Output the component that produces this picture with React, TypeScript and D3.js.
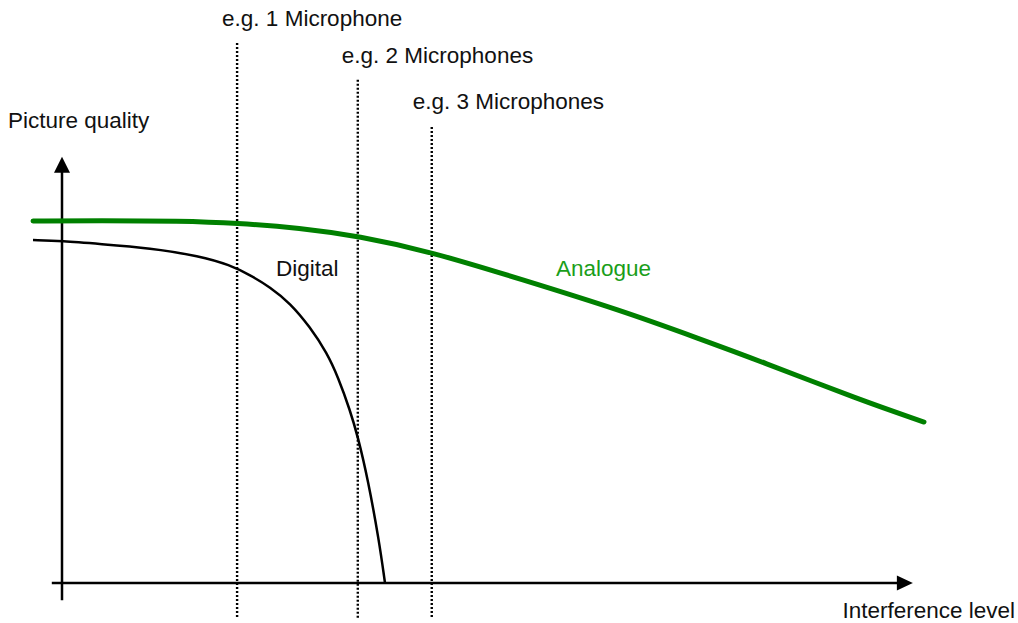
import React from "react";
import * as d3 from "d3";

// Interference level (0-100) vs picture quality (0-100)
const analogueX = [-3.41, 4.47, 13.88, 20.59, 28.0, 34.82, 43.53, 53.88, 65.65, 75.06, 82.12, 93.88, 101.41];
const analogueY = [86.19, 86.31, 86.19, 85.71, 84.52, 82.62, 78.81, 72.38, 65.0, 58.1, 52.86, 43.57, 38.33];

const digitalX = [-3.41, 0, 4.47, 10.35, 16.24, 19.76, 22.12, 24.47, 26.82, 29.18, 31.18, 32.47, 33.88, 34.82, 36.0, 37.29, 38.0];
const digitalY = [81.67, 81.43, 80.71, 79.76, 77.86, 75.71, 73.33, 70.48, 66.67, 60.95, 54.76, 49.05, 41.19, 34.76, 24.52, 10.24, 0];

const micLabels = ["e.g. 1 Microphone", "e.g. 2 Microphones", "e.g. 3 Microphones"];
const micX = [20.6, 34.8, 43.5];
const micTop = [128.6, 119.8, 108.6];

const W = 1018;
const H = 623;

export default function App() {
  const x = d3.scaleLinear().domain([0, 100]).range([62, 912]);
  const y = d3.scaleLinear().domain([0, 100]).range([583, 163]);

  const line = d3
    .line<[number, number]>()
    .x((d) => x(d[0]))
    .y((d) => y(d[1]))
    .curve(d3.curveBasis);

  const analogue: [number, number][] = analogueX.map((v, i) => [v, analogueY[i]]);
  const digital: [number, number][] = digitalX.map((v, i) => [v, digitalY[i]]);

  const font = "'Liberation Sans', Arial, Helvetica, sans-serif";

  const x0 = x(0);
  const y0 = y(0);
  const yTip = y(101.5);
  const xTip = x(100.1);

  return (
    <svg
      width={W}
      height={H}
      style={{ position: "absolute", left: 0, top: 0, background: "#fff" }}
      fontFamily={font}
    >
      {/* dotted marker lines */}
      {micX.map((m, i) => (
        <g key={i}>
          <line
            x1={x(m)}
            x2={x(m)}
            y1={y(micTop[i])}
            y2={y(-8.3)}
            stroke="#000"
            strokeWidth={2.4}
            strokeDasharray="2,2"
          />
          <text
            x={x(m) - [15, 16, 19][i]}
            y={y(micTop[i]) - [17, 17, 18][i]}
            fontSize={22.5}
            fill="#111"
          >
            {micLabels[i]}
          </text>
        </g>
      ))}

      {/* axes */}
      <line x1={x0} x2={x0} y1={y(-4.1)} y2={yTip + 14} stroke="#000" strokeWidth={2.5} />
      <path d={`M${x0},${yTip} L${x0 - 8},${yTip + 16} L${x0 + 8},${yTip + 16} Z`} fill="#000" />
      <line x1={x(-1.2)} x2={xTip - 13} y1={y0} y2={y0} stroke="#000" strokeWidth={2.5} />
      <path d={`M${xTip},${y0} L${xTip - 16},${y0 - 7.5} L${xTip - 16},${y0 + 7.5} Z`} fill="#000" />

      {/* curves */}
      <path d={line(digital) || ""} fill="none" stroke="#000" strokeWidth={2.5} />
      <path
        d={line(analogue) || ""}
        fill="none"
        stroke="#008000"
        strokeWidth={5}
        strokeLinecap="round"
      />

      {/* labels */}
      <text x={8} y={128} fontSize={22.5} fill="#111">Picture quality</text>
      <text x={1015} y={618} fontSize={22.5} fill="#111" textAnchor="end">Interference level</text>
      <text x={276} y={276} fontSize={22.5} fill="#111">Digital</text>
      <text x={556} y={276} fontSize={22.5} fill="#1a9e1a">Analogue</text>
    </svg>
  );
}
